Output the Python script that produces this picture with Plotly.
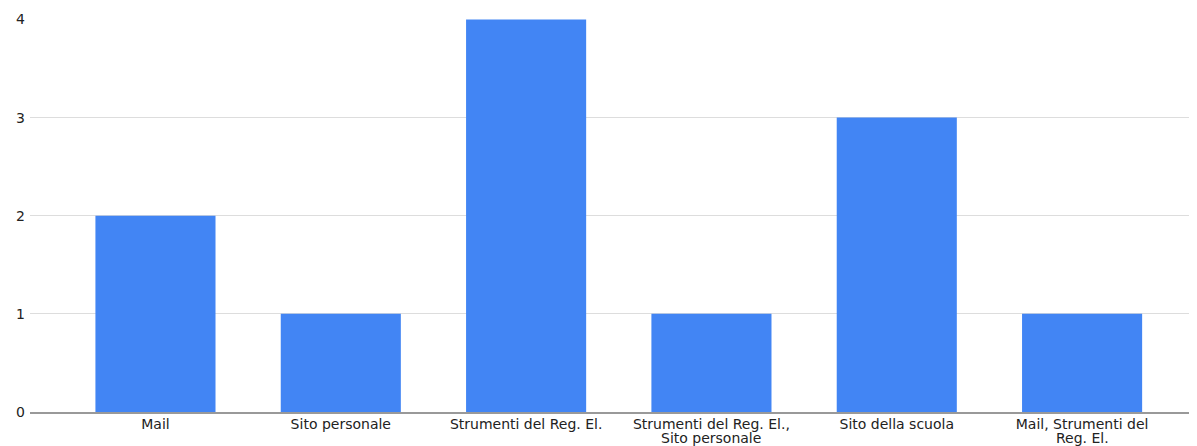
import plotly.graph_objects as go

categories = ["Mail", "Sito personale", "Strumenti del Reg. El.",
              "Strumenti del Reg. El.,<br>Sito personale", "Sito della scuola",
              "Mail, Strumenti del<br>Reg. El."]
values = [2, 1, 4, 1, 3, 1]
y_ticks = [0, 1, 2, 3, 4]

xs = list(range(len(categories)))
first_lines = [c.split("<br>")[0] for c in categories]

fig = go.Figure(go.Bar(x=xs, y=values,
                       marker=dict(color="#4285F4", line=dict(width=0)),
                       width=0.648))

FONT = "DejaVu Sans, Arial, sans-serif"
for x, c in zip(xs, categories):
    parts = c.split("<br>")
    if len(parts) > 1:
        fig.add_annotation(x=x, y=0, xref="x", yref="paper", text=parts[1],
                           showarrow=False, yanchor="top", yshift=-16.5,
                           borderpad=0,
                           font=dict(size=14, family=FONT, color="#222222"))

fig.update_layout(
    width=1197, height=446,
    margin=dict(l=22, r=8, t=11, b=42, autoexpand=False),
    plot_bgcolor="white", paper_bgcolor="white",
    font=dict(family=FONT, color="#222222"),
    showlegend=False,
)
fig.update_xaxes(
    tickmode="array", tickvals=xs, ticktext=first_lines,
    range=[-0.677, 5.62], showgrid=False, ticks="", tickfont=dict(size=14),
    showline=True, linecolor="#999999", linewidth=1.5, zeroline=False,
    ticklabelstandoff=-2, automargin=False,
)
fig.update_yaxes(
    tickmode="array", tickvals=y_ticks, range=[0, 4.005],
    showgrid=True, gridcolor="#dddddd", gridwidth=1, zeroline=False,
    ticks="", tickfont=dict(size=14), ticklabelstandoff=4, automargin=False,
)

fig.write_html("out.html")
